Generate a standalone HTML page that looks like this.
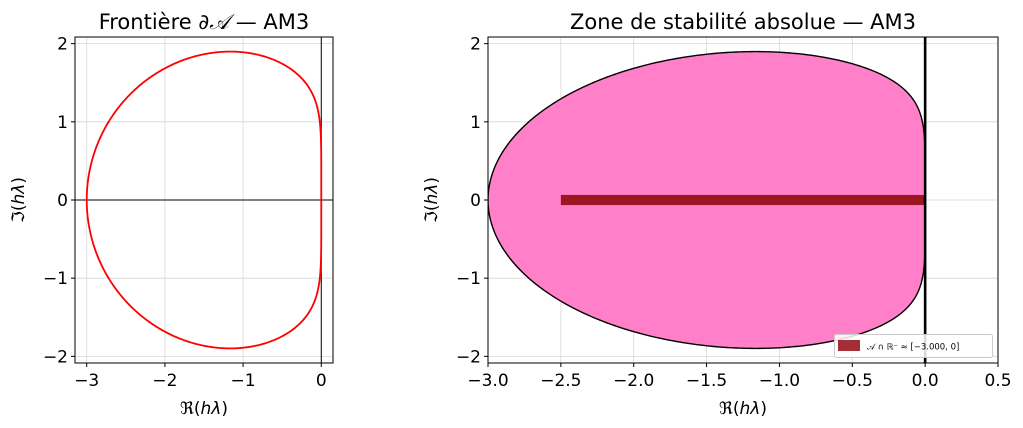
<!DOCTYPE html>
<html><head><meta charset="utf-8"><style>
html,body{margin:0;padding:0;background:#fff;}
svg{display:block;font-family:"DejaVu Sans","Liberation Sans",sans-serif;}
</style></head><body>
<svg id="s" width="1023" height="428" viewBox="0 0 1023 428" xmlns="http://www.w3.org/2000/svg"></svg>
<script>
const s=document.getElementById('s');
let out='';
const pts=[];
for(let i=0;i<=720;i++){const t=2*Math.PI*i/720;
 const c=k=>[Math.cos(k*t),Math.sin(k*t)];
 const z3=c(3),z2=c(2),z1=c(1);
 const rr=z3[0]-z2[0], ri=z3[1]-z2[1];
 const sr=(9*z3[0]+19*z2[0]-5*z1[0]+1)/24, si=(9*z3[1]+19*z2[1]-5*z1[1])/24;
 const d=sr*sr+si*si;
 pts.push([(rr*sr+ri*si)/d,(ri*sr-rr*si)/d]);}
function panel(L,R,x0,x1,xt,fill){
 const T=37,B=363,y0=-2.085,y1=2.085;
 const X=v=>L+(v-x0)/(x1-x0)*(R-L), Y=v=>B-(v-y0)/(y1-y0)*(B-T);
 out+=`<clipPath id="c${L}"><rect x="${L}" y="${T}" width="${R-L}" height="${B-T}"/></clipPath>`;
 for(const v of xt) out+=`<line x1="${X(v)}" x2="${X(v)}" y1="${T}" y2="${B}" stroke="#d8d8d8" stroke-width="0.8"/>`;
 for(const v of [-2,-1,0,1,2]) out+=`<line x1="${L}" x2="${R}" y1="${Y(v)}" y2="${Y(v)}" stroke="#d8d8d8" stroke-width="0.8"/>`;
 const d='M'+pts.map(p=>X(p[0]).toFixed(2)+','+Y(p[1]).toFixed(2)).join('L')+'Z';
 out+=`<g clip-path="url(#c${L})">`;
 if(fill){
  out+=`<path d="${d}" fill="#ff80c8" stroke="#000" stroke-width="1.4"/>`;
  out+=`<rect x="${X(-2.5)}" y="${Y(0.065)}" width="${X(0)-X(-2.5)}" height="${Y(-0.065)-Y(0.065)}" fill="#9b1620"/>`;
  out+=`<line x1="${X(0)}" x2="${X(0)}" y1="${T}" y2="${B}" stroke="#000" stroke-width="2.6"/>`;
 } else {
  out+=`<line x1="${L}" x2="${R}" y1="${Y(0)}" y2="${Y(0)}" stroke="#000" stroke-width="1"/>`;
  out+=`<line x1="${X(0)}" x2="${X(0)}" y1="${T}" y2="${B}" stroke="#000" stroke-width="1"/>`;
  out+=`<path d="${d}" fill="none" stroke="#f00" stroke-width="1.8"/>`;
 }
 out+='</g>';
 out+=`<rect x="${L}" y="${T}" width="${R-L}" height="${B-T}" fill="none" stroke="#000" stroke-width="1"/>`;
 for(const v of xt){out+=`<line x1="${X(v)}" x2="${X(v)}" y1="${B}" y2="${B+4}" stroke="#000"/>`;
  const lab=(fill?v.toFixed(1):String(v)).replace('-','\u2212');
  out+=`<text x="${X(v)}" y="${B+23}" font-size="17" text-anchor="middle">${lab}</text>`;}
 for(const v of [-2,-1,0,1,2]){out+=`<line x1="${L-4}" x2="${L}" y1="${Y(v)}" y2="${Y(v)}" stroke="#000"/>`;
  out+=`<text x="${L-7}" y="${Y(v)+6}" font-size="17" text-anchor="end">${String(v).replace('-','\u2212')}</text>`;}
 out+=`<text x="${(L+R)/2}" y="${B+51}" font-size="17" text-anchor="middle">ℜ(<tspan font-style="italic">hλ</tspan>)</text>`;
 out+=`<text transform="translate(${L-51},200) rotate(-90)" font-size="17" text-anchor="middle">ℑ(<tspan font-style="italic">hλ</tspan>)</text>`;
}
panel(75,333,-3.15,0.15,[-3,-2,-1,0],false);
panel(488,998,-3,0.5,[-3,-2.5,-2,-1.5,-1,-0.5,0,0.5],true);
out+=`<text x="204" y="29" font-size="21" text-anchor="middle">Frontière ∂<tspan font-style="italic">𝒜</tspan> — AM3</text>`;
out+=`<text x="743" y="29" font-size="21" text-anchor="middle">Zone de stabilité absolue — AM3</text>`;
out+=`<rect x="834.5" y="334.5" width="158" height="23" rx="2" fill="#fff" fill-opacity="0.85" stroke="#ccc"/>`;
out+=`<rect x="838" y="340" width="22" height="11" fill="#9b1620" fill-opacity="0.9"/>`;
out+=`<text x="867" y="349.5" font-size="8.5">𝒜 ∩ ℝ⁻ ≈ [−3.000, 0]</text>`;
s.innerHTML=out;
</script>
</body></html>
